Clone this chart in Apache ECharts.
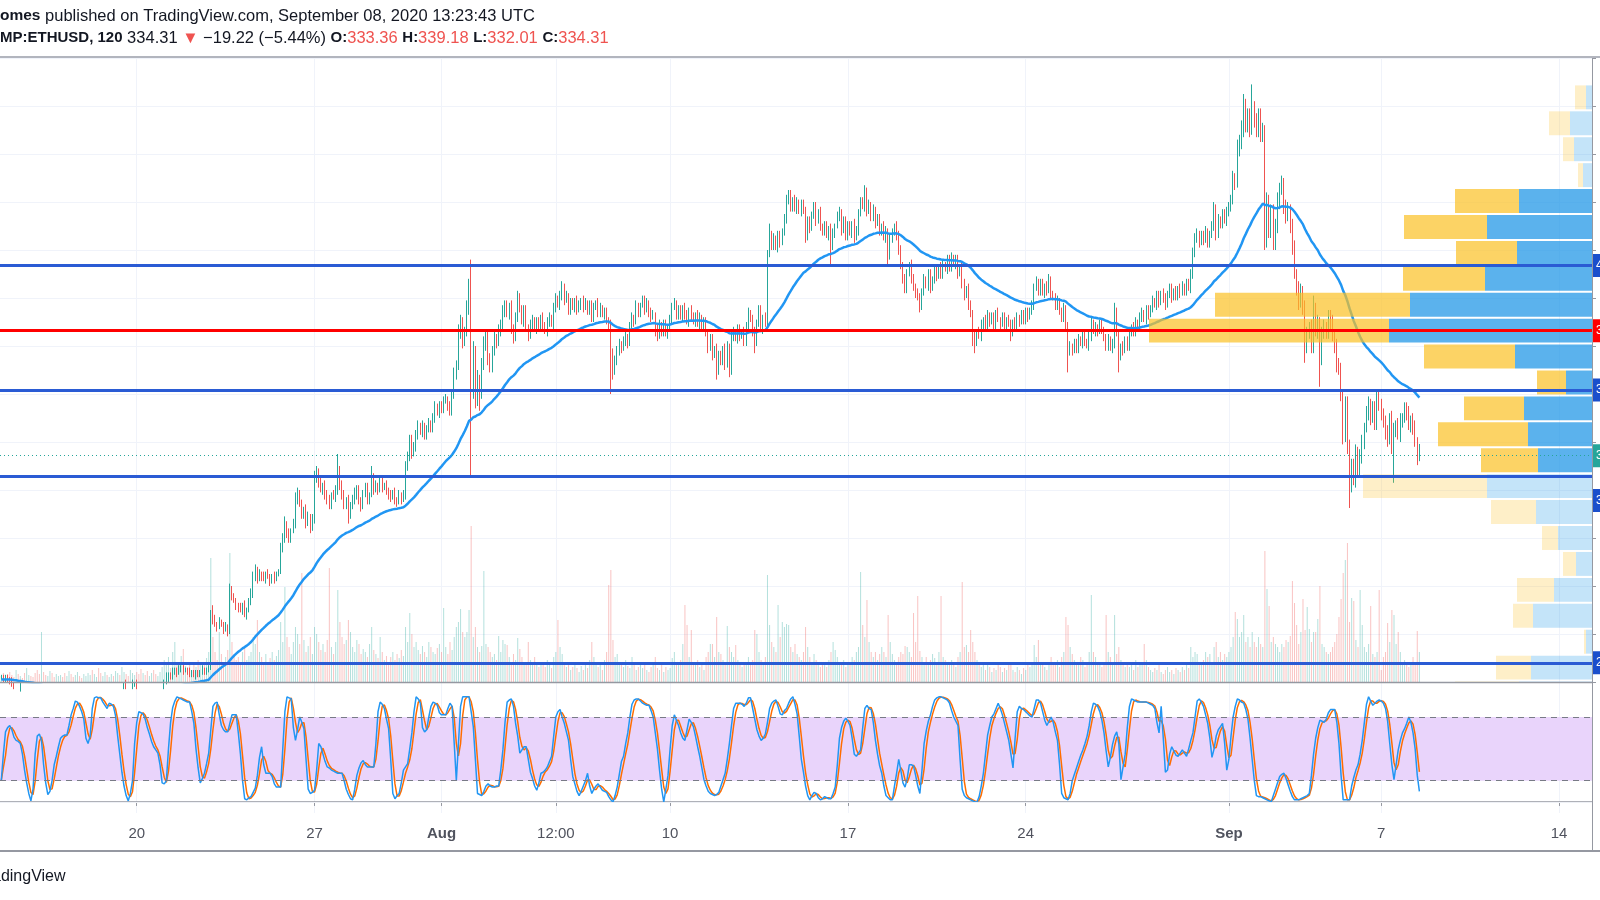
<!DOCTYPE html>
<html><head><meta charset="utf-8"><title>ETHUSD 120</title>
<script src="https://cdn.jsdelivr.net/npm/echarts@6.0.0/dist/echarts.min.js"></script>
<style>html,body{margin:0;padding:0;background:#fff;overflow:hidden}#chart{width:1600px;height:900px}</style>
</head><body><div id="chart"></div>
<script>
// ---------------- DATA ----------------
const barHours = 2;            // 120-minute candles
const firstCandleHour = 16;    // hours after 2020-07-14 00:00 UTC
const firstOpen = 242;
const closes = [242,241,242,241,
240,239,238,238,237,238,237,236,237,238,237,236,
235,234,233,234,233,232,233,234,233,232,233,233,
234,233,232,233,234,233,232,233,234,233,232,233,
234,235,236,235,236,237,236,235,236,237,236,236,
237,236,237,238,237,238,239,238,237,238,239,239,
238,237,236,237,236,235,236,237,236,235,236,236,
238,240,242,243,242,244,245,244,245,246,245,245,
244,243,244,243,244,243,244,245,244,245,246,268,
266,264,263,265,264,262,263,261,278,276,274,272,
271,270,272,268,270,273,276,284,287,283,285,284,
283,285,284,282,284,283,285,286,296,300,305,302,
300,303,306,316,318,314,310,312,306,309,304,308,
325,327,323,320,322,318,316,314,318,317,320,328,
322,318,314,316,310,313,316,318,320,316,313,318,
321,316,318,325,320,322,320,323,321,322,320,318,
317,319,316,315,318,316,318,330,334,340,336,338,
343,346,344,347,343,345,348,346,350,354,352,355,
354,357,358,355,353,360,368,372,385,390,382,386,
395,404,362,375,358,366,360,372,380,384,375,372,
378,384,381,386,389,394,397,393,396,388,384,392,
400,396,390,395,388,385,389,391,387,390,388,392,
389,386,390,392,389,396,400,397,401,404,399,401,
395,398,396,399,395,397,399,396,398,395,397,392,
396,398,394,396,393,394,391,389,376,370,374,378,
381,379,382,384,381,388,392,390,396,394,397,399,
395,398,394,392,393,387,384,389,386,389,385,388,
391,396,398,393,395,392,396,393,390,395,392,390,
393,389,392,388,390,386,380,383,377,379,370,376,
374,379,373,380,370,384,386,383,387,384,386,382,
388,394,391,386,382,390,395,387,392,390,418,426,
422,425,421,426,423,428,433,440,443,438,441,437,
440,436,439,437,426,432,429,435,438,432,436,430,
428,430,426,429,422,427,430,434,436,428,432,426,
430,427,431,425,428,436,440,438,444,436,439,434,
437,431,433,428,430,425,428,418,425,427,430,426,
420,414,408,404,410,414,408,405,402,400,397,403,
408,405,410,404,408,412,409,413,410,414,412,416,
413,417,414,416,410,413,406,401,404,397,394,385,
382,386,384,389,391,388,393,390,392,389,394,391,
389,392,388,391,389,386,390,388,392,390,393,391,
394,392,395,397,404,407,403,406,402,405,403,407,
402,400,397,399,394,392,396,388,378,380,378,381,
379,383,381,384,382,380,384,389,386,388,386,389,
387,383,380,383,379,381,394,385,376,380,378,382,
380,385,388,386,390,388,392,394,391,395,393,396,
399,397,401,398,402,400,397,402,404,400,403,401,
404,402,405,403,406,404,410,418,425,427,423,426,
424,428,423,426,430,437,426,433,431,435,432,436,
438,441,450,448,462,465,470,480,472,476,470,479,
474,470,476,468,470,425,440,428,436,423,430,440,
445,448,438,434,437,430,421,410,404,398,403,396,
380,385,388,380,395,386,390,375,385,388,386,392,
390,384,380,372,370,360,342,356,338,322,330,324,
336,328,334,340,346,352,356,350,354,348,358,355,
352,348,344,341,350,338,345,347,343,349,350,353.53,
352,347,349,346,340,333.36,334.31];

const wickUp = [1,1,1,1,
1,2,1,1,1,2,1,1,2,1,1,1,
1,1,2,1,1,1,2,1,1,1,2,1,
1,1,1,2,1,1,1,2,1,1,1,1,
1,2,1,1,1,2,1,1,2,1,1,1,
1,1,2,1,1,1,1,2,1,1,2,1,
2,1,1,1,2,1,1,1,1,1,1,2,
1,1,2,1,1,2,1,1,2,1,1,1,
1,2,1,1,1,1,1,2,1,1,1,2,
4,2,1,2,1,1,2,1,3,2,1,1,
1,2,1,2,1,2,3,2,2,1,2,1,
2,1,2,1,1,2,1,1,2,2,4,2,
2,1,2,3,3,2,2,1,2,2,1,2,
3,3,2,2,1,2,2,2,1,2,2,7,
2,2,2,1,2,2,2,3,2,2,1,2,
2,2,1,5,2,2,1,2,2,1,2,1,
2,1,2,1,2,1,2,2,2,3,3,2,
2,3,2,2,1,2,2,1,2,3,2,2,
2,2,2,1,2,2,3,2,4,3,2,2,
4,4,12,7,5,4,2,3,4,3,3,2,
2,2,1,3,2,3,2,2,2,3,1,2,
3,2,1,2,2,1,2,2,1,2,2,1,
2,1,2,2,1,2,2,1,2,3,2,2,
1,2,2,1,2,2,1,2,2,1,2,2,
2,1,2,2,1,2,2,1,2,3,2,2,
2,1,2,2,1,2,2,1,3,2,1,2,
2,2,1,2,2,1,2,2,1,2,2,1,
2,2,2,1,2,2,1,2,2,1,2,2,
1,2,2,1,2,2,1,2,2,1,2,2,
2,1,2,2,1,3,2,1,2,2,1,2,
2,2,1,2,2,1,2,2,1,2,2,5,
2,2,1,2,2,1,2,3,2,2,1,2,
2,1,2,2,1,2,2,1,2,2,1,2,
1,2,2,1,2,2,1,2,2,1,2,2,
2,2,1,2,2,1,2,2,3,2,2,1,
2,1,2,2,1,2,2,1,2,2,1,2,
2,2,1,2,2,1,2,2,1,2,2,1,
2,1,2,2,1,2,2,1,2,2,1,2,
2,2,1,2,2,1,2,2,1,2,2,1,
2,1,2,2,1,2,2,1,2,2,1,2,
1,2,2,1,2,2,1,2,2,1,2,2,
2,2,1,2,2,2,1,2,2,1,2,3,
2,1,2,2,1,2,2,1,2,2,1,2,
2,2,1,2,2,1,2,3,2,2,1,2,
2,1,2,2,1,2,4,2,2,1,2,2,
2,2,1,2,2,1,2,2,1,2,2,1,
2,1,2,2,1,2,2,1,2,2,1,2,
1,2,2,1,2,2,2,3,2,2,1,2,
2,2,1,2,2,3,2,2,1,2,2,2,
2,2,3,2,4,3,4,5,3,3,3,10,
3,3,3,3,3,2,4,3,3,3,3,4,
3,3,2,3,3,2,3,3,2,3,3,2,
3,3,2,3,6,3,3,2,3,3,2,3,
3,3,2,3,3,3,2,3,3,3,3,3,
3,2,3,3,2,3,3,2,3,3,4,3,
3,2,3,3,2,3,3,2,3,3,2,3,
3,3,2,3,3,2,4.87];

const wickDn = [1,1,1,1,
1,1,1,2,1,1,1,2,1,1,1,1,
1,2,1,1,2,1,1,1,2,1,1,1,
1,1,2,1,1,1,2,1,1,1,2,1,
1,1,1,2,1,1,1,1,1,2,1,1,
1,1,1,1,2,1,1,1,1,2,1,1,
1,1,2,1,1,1,1,1,2,1,1,1,
1,1,1,2,1,1,1,2,1,1,2,1,
1,1,1,1,2,1,1,1,1,1,1,1,
2,1,2,1,1,2,1,2,1,2,1,2,
2,1,2,1,2,1,1,1,2,2,1,2,
1,2,1,2,1,2,1,1,1,2,2,2,
2,2,1,2,2,1,2,2,2,1,2,1,
2,2,2,1,2,2,2,2,2,1,2,2,
2,2,2,2,4,2,1,2,2,2,2,1,
1,2,2,1,2,1,2,1,2,1,2,2,
2,1,2,2,1,2,1,2,2,2,3,2,
2,2,1,2,2,2,1,2,2,2,1,2,
2,2,1,2,2,2,2,2,2,2,3,2,
2,2,36,4,4,3,7,2,2,2,3,3,
3,2,2,1,2,2,2,1,2,3,3,2,
2,2,1,2,2,3,2,2,1,2,2,2,
2,1,2,2,1,2,2,1,2,2,2,1,
2,2,1,2,2,1,2,2,1,2,2,2,
2,1,2,2,1,2,2,2,16,4,2,2,
2,2,1,2,2,1,2,2,1,2,2,1,
2,1,2,2,1,3,2,1,2,2,1,2,
2,2,1,2,2,1,2,2,1,2,2,1,
2,1,2,2,1,2,3,2,3,2,4,2,
2,2,3,2,3,2,2,1,2,2,1,2,
2,2,1,2,5,2,2,1,2,2,2,1,
2,2,1,2,2,1,2,2,1,2,2,1,
2,1,2,2,3,2,2,1,2,2,1,2,
2,2,1,2,9,2,2,1,2,2,1,2,
2,1,2,2,1,2,2,1,2,2,1,2,
2,2,1,2,2,1,2,4,2,2,1,2,
2,2,2,2,2,1,2,2,2,1,3,2,
2,1,2,2,1,2,2,1,2,2,1,2,
2,2,1,2,2,1,2,2,1,2,2,5,
5,2,1,2,2,1,2,2,1,2,2,1,
2,1,2,2,1,4,2,1,2,2,1,2,
2,2,1,2,2,1,2,2,1,2,2,1,
2,1,2,2,1,2,2,1,9,2,2,1,
2,2,1,2,2,1,2,2,1,2,2,1,
2,1,2,2,1,2,2,1,7,2,2,1,
2,2,1,2,2,1,2,2,1,2,2,1,
2,1,2,2,1,2,2,1,2,2,1,2,
2,2,1,2,2,1,2,2,1,2,2,1,
2,1,2,2,1,2,2,1,2,2,1,2,
2,2,2,3,2,3,3,3,3,3,3,2,
3,3,3,3,3,5,4,3,3,3,3,3,
3,2,3,3,2,3,3,2,3,3,2,3,
7,3,2,3,3,2,3,12,3,2,3,3,
3,2,3,3,2,3,3,2,3,9.5,3,2,
3,3,2,3,3,2,3,3,2,3,3,2,
3,2,3,3,2,3,15,3,2,3,3,2,
3,2,3,3,2,3,1.35];

const volumes = [6,9,5,8,
10,7,5,12,8,6,4,9,14,7,6,5,
9,12,8,50,10,7,6,11,9,5,8,6,
7,5,9,6,11,8,5,7,10,6,4,8,
6,9,7,12,8,5,14,9,6,10,7,5,
8,6,11,9,7,15,10,8,6,12,9,7,
10,8,13,9,7,11,6,9,12,8,6,10,
15,22,18,25,14,30,40,20,18,26,33,16,
14,18,12,20,15,22,17,13,19,24,30,124,
45,30,22,50,28,20,25,32,129,40,28,22,
25,18,30,35,22,26,30,45,38,62,30,25,
20,28,18,24,30,22,26,32,60,40,95,45,
35,28,40,55,48,38,109,42,30,36,45,28,
55,48,40,32,38,30,42,114,35,28,40,92,
60,45,38,42,62,50,35,30,42,38,28,33,
30,25,38,55,32,28,24,45,30,22,26,20,
25,30,22,28,24,32,26,55,40,69,48,35,
40,32,28,36,30,25,40,35,30,28,34,38,
30,74,35,28,40,32,45,55,60,73,50,45,
50,72,156,45,55,35,30,36,111,38,35,30,
25,28,22,46,30,42,38,37,25,20,28,22,
44,33,25,20,18,40,22,18,25,20,15,18,
20,15,22,18,14,25,30,62,35,28,20,15,
18,12,15,20,14,10,16,12,18,14,22,40,
25,18,15,20,12,22,30,97,112,42,25,28,
20,18,15,22,16,14,25,18,12,15,20,14,
18,12,10,15,20,25,14,12,18,10,15,12,
14,24,30,20,18,22,38,77,57,25,52,20,
18,22,15,20,12,25,30,38,38,25,65,30,
28,22,20,56,35,30,25,37,22,20,15,18,
20,25,18,22,52,48,30,22,18,25,107,57,
40,35,30,77,45,60,55,58,57,35,30,38,
28,25,22,30,55,35,25,20,28,22,18,15,
20,18,15,22,30,40,32,25,20,18,22,15,
20,18,25,22,30,35,110,57,45,82,40,30,
25,30,22,28,35,30,25,67,40,28,22,20,
25,30,28,36,35,30,25,69,40,86,31,25,
20,25,18,22,28,24,20,30,86,25,22,20,
18,22,20,15,25,30,100,35,37,30,52,40,
30,22,18,15,20,12,18,15,10,14,12,18,
15,10,14,12,18,20,12,10,15,12,8,14,
12,18,15,20,37,25,42,20,18,15,12,20,
25,20,18,22,15,25,30,65,57,35,28,22,
20,18,25,22,15,20,30,87,30,25,20,18,
15,20,67,30,25,20,67,28,35,22,18,15,
20,15,18,12,22,15,20,18,38,22,15,12,
10,14,12,18,10,8,12,15,10,12,8,14,
12,10,15,12,18,14,35,25,30,28,20,18,
22,30,25,28,20,35,40,25,30,22,28,25,
30,35,45,70,63,45,50,67,40,45,35,50,
40,35,45,38,35,131,93,76,40,45,38,35,
30,38,35,42,40,46,101,79,57,38,50,83,
52,75,53,40,50,50,63,96,38,35,30,28,
30,35,40,48,65,83,109,122,139,60,84,81,
42,35,92,57,35,30,38,76,28,25,30,92,
12,25,30,59,40,72,67,38,50,30,20,22,
18,15,20,25,20,51,30];

// Stoch RSI %K (one value per candle)
const stochK = [20,45,66,70,72,68,61,58,57,55,45,30,
18,8,1,12,45,62,64,58,35,18,7,10,
20,35,43,52,60,62,63,63,72,82,88,95,
94,90,85,78,60,55,62,88,98,99,98,98,
94,91,88,93,92,90,81,62,45,28,15,6,
1,8,20,55,75,85,84,83,78,70,64,57,
52,49,46,35,18,17,20,50,75,89,95,99,
98,97,96,95,94,94,85,74,50,32,18,22,
27,36,46,68,90,93,94,82,72,68,66,66,
74,82,82,82,65,45,20,3,2,4,5,9,
13,25,42,52,35,27,27,27,24,17,14,14,
14,50,85,99,98,97,70,58,68,80,75,69,
40,12,8,9,11,30,55,52,45,38,33,32,
30,29,28,27,27,27,20,12,7,3,2,12,
25,32,37,39,35,33,33,33,33,55,85,94,
92,88,78,69,40,8,3,6,8,18,30,33,
36,50,65,85,99,97,93,70,66,68,80,90,
94,93,91,84,82,82,82,88,93,90,55,20,
55,90,99,99,99,99,85,71,40,8,7,6,
10,15,17,15,14,14,15,15,30,49,75,94,
96,97,90,74,62,46,49,52,52,40,28,22,
15,11,18,27,28,30,33,38,43,62,80,85,
87,80,74,66,58,40,24,17,10,6,10,15,
20,27,15,8,12,15,17,14,11,10,9,5,
2,0,6,14,26,38,43,55,65,80,92,96,
97,97,95,93,92,91,91,86,80,65,50,30,
12,0,12,25,50,72,82,77,72,65,60,58,
68,78,75,71,62,52,43,32,21,15,10,8,
7,6,7,9,15,21,27,40,55,72,88,93,
93,93,92,90,93,98,98,88,78,68,62,58,
60,64,75,88,93,95,96,90,83,82,86,88,
93,97,99,92,83,62,40,28,15,6,2,6,
9,8,4,2,3,5,4,3,3,8,14,35,
60,70,76,79,76,72,60,45,43,46,49,70,
88,91,88,87,75,58,45,34,27,15,6,4,
2,2,15,27,40,30,18,14,22,35,35,34,
25,15,8,30,55,67,76,82,90,96,98,99,
99,98,97,96,93,86,80,76,72,40,12,6,
4,3,2,1,0,0,5,15,27,45,63,72,
80,83,88,93,88,82,74,66,58,45,32,60,
85,90,88,87,85,83,81,80,88,96,96,93,
85,77,72,76,80,75,66,58,35,8,4,3,
2,8,20,26,32,38,44,49,55,62,72,85,
93,92,90,85,77,65,48,33,42,54,62,66,
55,21,33,45,70,90,97,96,95,94,94,94,
94,94,93,92,91,88,75,65,90,60,28,30,
45,52,48,44,43,46,49,46,43,50,58,65,
80,95,97,94,90,82,74,60,42,50,62,68,
71,74,55,30,40,62,80,90,97,96,94,93,
87,78,60,40,20,6,5,5,4,3,2,1,
0,6,12,18,24,26,27,22,16,10,5,2,
2,2,3,4,5,6,8,25,45,60,70,77,
76,75,78,84,87,87,87,75,55,25,2,2,
2,2,15,23,30,35,45,58,75,92,99,95,
91,93,95,96,95,93,88,76,55,35,21,35,
49,58,65,69,74,80,75,65,50,25,10];
const stochSmoothD = 3;
const stochBands = [20, 80];

const emaLength = 50;
const emaSeed = 241;

const levelsBlue = [413.5, 361.7, 325.6, 248];
const levelsRed = [386.4];

// Visible-range volume profile (rows from top to bottom)
const profileLow = [478.2,467.4,456.6,445.8,435.0,424.2,413.4,402.6,391.8,381.0,370.2,359.4,348.6,337.8,327.0,316.2,305.4,294.6,283.8,273.0,262.2,251.4,240.6,229.8];
const profileRowSize = 10.8;
const profileUp   = [6,22,18,9,73,105,75,107,182,203,77,26,68,64,54,105,56,34,16,38,59,6,61,73];
const profileDown = [11,21,11,5,64,83,61,82,195,240,91,29,60,90,57,124,45,16,13,37,20,2,35,64];
const profileInValueArea = [0,0,0,0,1,1,1,1,1,1,1,1,1,1,1,0,0,0,0,0,0,0,0,0];

const timeTickHours  = [144, 312, 432, 540, 648, 816, 984, 1176, 1320, 1488];
const timeTickLabels = ['20','27','Aug','12:00','10','17','24','Sep','7','14'];
const timeTickMonth  = [0,0,1,0,0,0,0,1,0,0];
const priceMin = 240, priceMax = 500, priceStep = 20;
const timeMin = 14.8, timeMax = 1519.1;

const publisher = 'omes';
const publishedText = ' published on TradingView.com, September 08, 2020 13:23:43 UTC';
const symbolText = 'MP:ETHUSD, 120';

// ---------------- BUILD ----------------
const FONT = '"Liberation Sans", Arial, sans-serif';
const UP = '#26a69a', DOWN = '#ef5350';
const n = closes.length;
const candles = [], vols = [], ema = [], kLine = [], dLine = [];
const alpha = 2 / (emaLength + 1);
let e = emaSeed;
for (let i = 0; i < n; i++) {
  const t = firstCandleHour + i * barHours;
  const o = i === 0 ? firstOpen : closes[i - 1];
  const c = closes[i];
  const hi = Math.max(o, c) + (wickUp[i] || 0);
  const lo = Math.min(o, c) - (wickDn[i] || 0);
  candles.push([t, o, c, lo, hi]);
  vols.push({ value: [t, volumes[i] || 0], itemStyle: { color: c >= o ? 'rgba(38,166,154,0.35)' : 'rgba(239,83,80,0.35)' } });
  if (i > 0) e += alpha * (c - e);
  ema.push([t, e]);
  kLine.push([t, stochK[i]]);
  const ks = stochK.slice(Math.max(0, i - stochSmoothD + 1), i + 1);
  dLine.push([t, ks.reduce((a, b) => a + b, 0) / ks.length]);
}
const last = candles[n - 1];
const lastC = last[2];
const prevDayClose = closes[n - 8];
const chg = lastC - prevDayClose;
const pct = chg / prevDayClose * 100;
const emaLast = ema[n - 1][1];
const kLast = kLine[n - 1][1], dLast = dLine[n - 1][1];
const neg = v => (v < 0 ? '\u2212' : '') + Math.abs(v).toFixed(2);

const profileData = profileLow.map((lo, i) => [lo, lo + profileRowSize, profileUp[i], profileDown[i], profileInValueArea[i]]);

function tab(bg, extra) {
  return Object.assign({
    show: true, position: 'end', distance: 1, color: '#fff', backgroundColor: bg,
    padding: [5, 6, 5, 3], fontSize: 12, lineHeight: 13, fontFamily: FONT,
    formatter: p => Number(p.value).toFixed(2)
  }, extra || {});
}
const levelOffsets = [0, 0, 24, 0];

const xTickLabel = v => {
  const k = timeTickHours.indexOf(v);
  if (k < 0) return '';
  return timeTickMonth[k] ? '{m|' + timeTickLabels[k] + '}' : timeTickLabels[k];
};

const REG = '16.5px ' + FONT;
const option = {
  animation: false,
  backgroundColor: '#ffffff',
  textStyle: { fontFamily: FONT },
  grid: [
    { left: 0, top: 58, width: 1592, height: 624 },
    { left: 0, top: 683, width: 1592, height: 130 }
  ],
  xAxis: [
    { gridIndex: 0, type: 'value', min: timeMin, max: timeMax,
      axisLine: { show: false }, axisTick: { show: false, customValues: timeTickHours },
      axisLabel: { show: false, customValues: timeTickHours },
      splitLine: { show: true, lineStyle: { color: '#f0f3fa', width: 1 } } },
    { gridIndex: 1, type: 'value', min: timeMin, max: timeMax,
      axisLine: { show: true, lineStyle: { color: '#9598a1', width: 1.5 } },
      axisTick: { show: true, length: 4, customValues: timeTickHours, lineStyle: { color: '#9598a1' } },
      axisLabel: { show: true, customValues: timeTickHours, formatter: xTickLabel, fontSize: 15, color: '#50535e', margin: 13, fontFamily: FONT,
        rich: { m: { fontSize: 15, fontWeight: 'bold', color: '#50535e', fontFamily: FONT } } },
      splitLine: { show: true, lineStyle: { color: '#f0f3fa', width: 1 } } },
    { gridIndex: 0, type: 'value', min: 0, max: 1592, inverse: true, show: false }
  ],
  yAxis: [
    { gridIndex: 0, type: 'value', position: 'right', min: priceMin, max: priceMax, interval: priceStep,
      axisLine: { show: true, lineStyle: { color: '#9598a1' } },
      axisTick: { show: true, length: 4, lineStyle: { color: '#9598a1' } },
      axisLabel: { show: false },
      splitLine: { show: true, lineStyle: { color: '#f0f3fa', width: 1 } } },
    { gridIndex: 0, type: 'value', min: 0, max: 624, show: false },
    { gridIndex: 1, type: 'value', position: 'right', min: -10.4, max: 112, show: false, splitLine: { show: false } }
  ],
  series: [
    { name: 'Volume', type: 'bar', xAxisIndex: 0, yAxisIndex: 1, data: vols, barWidth: 1, large: false, progressive: 0, z: 1, silent: true },
    { name: 'ETHUSD', type: 'candlestick', xAxisIndex: 0, yAxisIndex: 0, data: candles,
      dimensions: ['t', 'open', 'close', 'low', 'high'], encode: { x: 't', y: ['open', 'close', 'low', 'high'] },
      barWidth: 1, large: false, progressive: 0, clip: true, z: 2, silent: true,
      itemStyle: { color: UP, color0: DOWN, borderColor: UP, borderColor0: DOWN, borderWidth: 1 } },
    { name: 'EMA', type: 'line', xAxisIndex: 0, yAxisIndex: 0, data: ema, showSymbol: false, symbol: 'none', clip: true, z: 3, silent: true,
      lineStyle: { color: '#2196f3', width: 2.5 } },
    { name: 'Profile', type: 'custom', xAxisIndex: 2, yAxisIndex: 0, data: profileData, z: 4, silent: true,
      dimensions: ['lo', 'hi', 'up', 'dn', 'va'], encode: { x: ['up', 'dn'], y: ['lo', 'hi'] },
      renderItem: (params, api) => {
        const lo = api.value(0), hi = api.value(1), up = api.value(2), dn = api.value(3), va = api.value(4);
        const cs = params.coordSys;
        const right = api.coord([0, hi])[0];
        const yTop = Math.max(api.coord([0, hi])[1] + 1, cs.y);
        const yBot = Math.min(api.coord([0, lo])[1] - 1, cs.y + cs.height);
        if (yBot <= yTop) return null;
        const xUp = api.coord([up, hi])[0];
        const xAll = api.coord([up + dn, hi])[0];
        return { type: 'group', children: [
          { type: 'rect', shape: { x: xAll, y: yTop, width: xUp - xAll, height: yBot - yTop },
            style: { fill: va ? 'rgba(251,192,35,0.7)' : 'rgba(251,192,35,0.25)' } },
          { type: 'rect', shape: { x: xUp, y: yTop, width: right - xUp, height: yBot - yTop },
            style: { fill: va ? 'rgba(21,146,230,0.7)' : 'rgba(21,146,230,0.25)' } }
        ] };
      } },
    { name: 'Levels', type: 'line', xAxisIndex: 0, yAxisIndex: 0, data: [], z: 6, silent: true,
      markLine: { symbol: ['none', 'none'], silent: true, animation: false, emphasis: { disabled: true },
        data: [
          ...levelsBlue.map((v, i) => ({ yAxis: v, lineStyle: { color: '#2a5bd4', width: 3, type: 'solid', opacity: 1 }, label: tab('#1a4fcc', { offset: [0, levelOffsets[i] || 0] }) })),
          ...levelsRed.map(v => ({ yAxis: v, lineStyle: { color: '#ff0000', width: 3, type: 'solid', opacity: 1 }, label: tab('#ff0000') })),
          { yAxis: lastC, lineStyle: { color: UP, width: 1, type: [1, 3], opacity: 1 }, label: tab(UP) },
          { yAxis: emaLast, lineStyle: { opacity: 0 }, label: tab('#2196f3', { offset: [0, 22] }) }
        ] } },
    { name: 'Band', type: 'line', xAxisIndex: 1, yAxisIndex: 2, data: [], z: 1, silent: true,
      markArea: { silent: true, itemStyle: { color: '#e9d4fb' }, data: [[{ yAxis: stochBands[0] }, { yAxis: stochBands[1] }]] },
      markLine: { symbol: ['none', 'none'], silent: true, label: { show: false },
        data: [
          { yAxis: stochBands[0], lineStyle: { color: '#787b86', width: 1, type: [6, 5] } },
          { yAxis: stochBands[1], lineStyle: { color: '#787b86', width: 1, type: [6, 5] } },
          { yAxis: 0, lineStyle: { color: '#eef0f5', width: 1, type: 'solid' } }
        ] } },
    { name: '%D', type: 'line', xAxisIndex: 1, yAxisIndex: 2, data: dLine, showSymbol: false, symbol: 'none', z: 3, silent: true,
      lineStyle: { color: '#ff6d00', width: 1.5 },
      markLine: { symbol: ['none', 'none'], silent: true, data: [{ yAxis: dLast, lineStyle: { opacity: 0 }, label: tab('#ff6d00', { offset: [0, -5] }) }] } },
    { name: '%K', type: 'line', xAxisIndex: 1, yAxisIndex: 2, data: kLine, showSymbol: false, symbol: 'none', z: 4, silent: true,
      lineStyle: { color: '#2196f3', width: 1.5 },
      markLine: { symbol: ['none', 'none'], silent: true, data: [{ yAxis: kLast, lineStyle: { opacity: 0 }, label: tab('#2196f3') }] } }
  ],
  graphic: [
    { type: 'line', z: 100, silent: true, shape: { x1: 0, y1: 57, x2: 1600, y2: 57 }, style: { stroke: '#b2b5be', lineWidth: 2 } },
    { type: 'line', z: 100, silent: true, shape: { x1: 0, y1: 682.5, x2: 1592, y2: 682.5 }, style: { stroke: '#9598a1', lineWidth: 1.5 } },
    { type: 'line', z: 100, silent: true, shape: { x1: 0, y1: 851, x2: 1600, y2: 851 }, style: { stroke: '#9598a1', lineWidth: 2 } },
    { type: 'line', z: 100, silent: true, shape: { x1: 1592.5, y1: 58, x2: 1592.5, y2: 851 }, style: { stroke: '#9598a1', lineWidth: 1 } },
    { type: 'text', z: 100, silent: true, x: 0, y: 16,
      style: { text: '{b|' + publisher + '}' + publishedText, font: REG, fill: '#131722', verticalAlign: 'middle',
        rich: { b: { fontWeight: 'bold', fontSize: 15.5, fontFamily: FONT, fill: '#131722' } } } },
    { type: 'text', z: 100, silent: true, x: 0, y: 38,
      style: {
        text: '{b|' + symbolText + '} ' + lastC.toFixed(2) + ' {r|\u25BC} ' + neg(chg) + ' (' + neg(pct) + '%) ' +
              '{b|O:}{r|' + last[1].toFixed(2) + '} {b|H:}{r|' + last[4].toFixed(2) + '} {b|L:}{r|' + last[3].toFixed(2) + '} {b|C:}{r|' + last[2].toFixed(2) + '}',
        font: REG, fill: '#131722', verticalAlign: 'middle',
        rich: { b: { fontWeight: 'bold', fontSize: 15, fontFamily: FONT, fill: '#131722' },
                r: { fontSize: 16.5, fontFamily: FONT, fill: '#ef5350' } } } },
    { type: 'text', z: 100, silent: true, x: -22.5, y: 877,
      style: { text: 'TradingView', font: '16px ' + FONT, fill: '#131722', verticalAlign: 'middle' } }
  ]
};

const chart = echarts.init(document.getElementById('chart'), null, { renderer: 'canvas', width: 1600, height: 900 });
chart.setOption(option);
</script></body></html>
